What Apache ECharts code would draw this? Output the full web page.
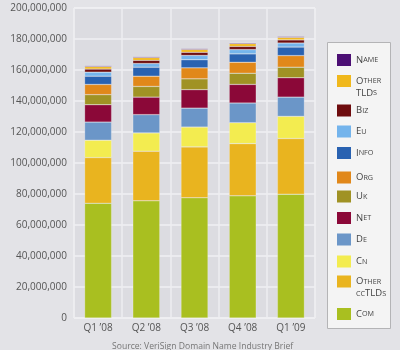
<!DOCTYPE html>
<html><head><meta charset="utf-8">
<script src="https://cdn.jsdelivr.net/npm/echarts/dist/echarts.min.js"></script>
<style>html,body{margin:0;padding:0;background:#e3e3e7}#c{width:400px;height:350px}</style>
</head><body><div id="c"></div>
<script>
// Values in millions of domain names
const categories = ['Q1 \u201908', 'Q2 \u201908', 'Q3 \u201908', 'Q4 \u201908', 'Q1 \u201909'];
const com        = [74.0, 75.6, 77.6, 78.8, 79.9];
const otherccTLDs= [29.5, 32.0, 32.8, 33.7, 35.9];
const cn         = [11.2, 11.8, 12.8, 13.5, 14.3];
const de         = [11.7, 11.8, 12.2, 12.7, 12.4];
const net        = [11.2, 11.3, 11.9, 12.0, 12.5];
const uk         = [6.5, 6.9, 7.0, 7.2, 6.8];
const org        = [6.6, 6.6, 7.1, 7.1, 7.5];
const info       = [5.3, 5.8, 5.2, 5.4, 5.5];
const eu         = [2.6, 2.4, 2.8, 2.8, 2.6];
const biz        = [2.0, 2.0, 2.0, 2.0, 2.0];
const otherTLDs  = [1.6, 1.8, 1.8, 1.8, 1.6];
const nameTLD    = [0.6, 0.6, 0.6, 0.6, 0.6];
const UNIT = 1e6;
const yMax = 200000000;
const yInterval = 20000000;
const sourceText = 'Source: VeriSign Domain Name Industry Brief';

// stack order bottom -> top
const seriesDefs = [
  ['Com', com, '#a9bf20'],
  ['Other ccTLDs', otherccTLDs, '#e9b41f'],
  ['Cn', cn, '#f3ec50'],
  ['De', de, '#6b96c8'],
  ['Net', net, '#8b0838'],
  ['Uk', uk, '#a09224'],
  ['Org', org, '#e1881a'],
  ['Info', info, '#2962b1'],
  ['Eu', eu, '#74b4ec'],
  ['Biz', biz, '#6e0c0e'],
  ['Other TLDs', otherTLDs, '#f0b81c'],
  ['Name', nameTLD, '#4c0f74']
];
const labelText = {'Other TLDs': 'Other\nTLDs', 'Other ccTLDs': 'Other\nccTLDs'};
function smallCaps(s) {
  return s.split('\n').map(line => line.replace(/([A-Z]+)|([a-z]+)/g,
    (m, u, l) => u ? '{b|' + u + '}' : '{s|' + l.toUpperCase() + '}')).join('\n');
}
function fmtNum(v) { return String(Math.round(v)).replace(/\B(?=(\d{3})+(?!\d))/g, ','); }

const legendOrder = seriesDefs.map(d => d[0]).reverse();
const legendCenters = [60, 81, 110.5, 131.5, 153, 177.5, 196.5, 218, 239.5, 261.5, 281.5, 314];
const FONT = '"Open Sans", sans-serif';

const chart = echarts.init(document.getElementById('c'), null, {renderer: 'canvas'});
chart.setOption({
  backgroundColor: '#e3e3e7',
  animation: false,
  textStyle: {fontFamily: FONT},
  title: {
    text: sourceText, left: 107, top: 337,
    textStyle: {fontSize: 8.6, fontWeight: 'normal', color: '#767676', fontFamily: FONT}
  },
  graphic: [{
    type: 'rect', left: 327, top: 42, z: -1,
    shape: {width: 63, height: 286},
    style: {fill: '#f4f4f4', stroke: '#b4b4b6', lineWidth: 1}
  }],
  legend: legendOrder.map((name, i) => {
    const two = !!labelText[name];
    return {
      data: [two ? {name: name, textStyle: {padding: [12, 0, 0, 0]}} : name],
      left: 337, top: legendCenters[i] - 6,
      orient: 'vertical', padding: 0, itemGap: 0,
      itemWidth: 14, itemHeight: 12, icon: 'rect', selectedMode: false,
      itemStyle: {borderWidth: 0},
      formatter: n => smallCaps(labelText[n] || n),
      textStyle: {
        color: '#444', fontFamily: FONT,
        rich: {
          b: {fontSize: 9.5, lineHeight: 12, color: '#444', fontFamily: FONT},
          s: {fontSize: 7.2, lineHeight: 12, color: '#444', fontFamily: FONT}
        }
      }
    };
  }),
  grid: {
    left: 74, top: 8, width: 241, height: 310,
    show: true, backgroundColor: '#dcdce1', borderColor: '#f0f0f3', borderWidth: 1
  },
  xAxis: {
    type: 'category', data: categories,
    axisLine: {show: false}, axisTick: {show: false},
    axisLabel: {color: '#555', fontSize: 10, margin: 5, fontFamily: FONT},
    splitLine: {show: true, lineStyle: {color: '#eeeef1', width: 1.5}}
  },
  yAxis: {
    type: 'value', min: 0, max: yMax, interval: yInterval,
    axisLine: {show: false}, axisTick: {show: false},
    axisLabel: {color: '#555', fontSize: 10, margin: 7, fontFamily: FONT, formatter: fmtNum},
    splitLine: {lineStyle: {color: '#f0f0f3', width: 1.5}}
  },
  series: seriesDefs.map(([name, vals, color]) => ({
    name: name, type: 'bar', stack: 'total', barWidth: 27,
    data: vals.map(v => v * UNIT),
    itemStyle: {color: color, borderColor: 'rgba(255,255,255,0.45)', borderWidth: 0.5}
  }))
});
</script></body></html>
